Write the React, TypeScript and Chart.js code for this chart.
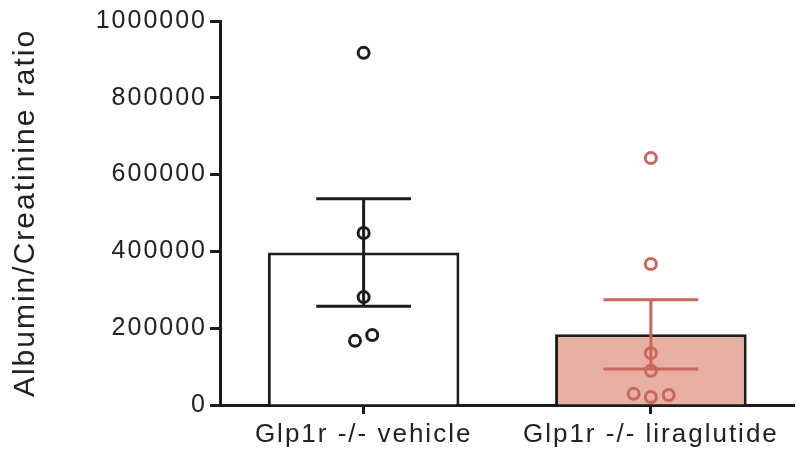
import React, { useEffect, useRef } from "react";
import { Chart, registerables } from "chart.js";

Chart.register(...registerables);

const categories = ["Glp1r -/- vehicle", "Glp1r -/- liraglutide"];
const means = [397000, 184000];
const sems = [140000, 90000];
const vehicleValues = [917000, 448000, 281000, 182000, 167000];
const vehicleJitter = [0, 0, 0, 0.03, -0.03];
const liraValues = [643000, 367000, 135000, 89000, 29000, 21000, 26000];
const liraJitter = [0, 0, 0, 0, -0.06, 0, 0.062];
const yTicks = [0, 200000, 400000, 600000, 800000, 1000000];

const BLACK = "#1c1c1c";
const RED = "#c8665c";
const PINK = "#e8b0a3";
const FONT = "'Liberation Sans', Arial, sans-serif";

const letterSpacingPlugin = {
  id: "letterSpacing",
  beforeUpdate(chart: any) {
    chart.ctx.letterSpacing = "2px";
  },
  beforeDraw(chart: any) {
    chart.ctx.letterSpacing = "2px";
  },
};

const errorBarPlugin = {
  id: "errorBars",
  afterDatasetsDraw(chart: any) {
    const { ctx, scales } = chart;
    const y = scales.y;
    const x2 = scales.x2;
    const colors = [BLACK, RED];
    const capHalf = 0.165;
    ctx.save();
    ctx.lineWidth = 3;
    means.forEach((m, i) => {
      const cx = x2.getPixelForValue(i);
      const left = x2.getPixelForValue(i - capHalf);
      const right = x2.getPixelForValue(i + capHalf);
      const top = y.getPixelForValue(m + sems[i]);
      const bot = y.getPixelForValue(m - sems[i]);
      ctx.strokeStyle = colors[i];
      ctx.beginPath();
      ctx.moveTo(cx, top);
      ctx.lineTo(cx, bot);
      ctx.moveTo(left, top);
      ctx.lineTo(right, top);
      ctx.moveTo(left, bot);
      ctx.lineTo(right, bot);
      ctx.stroke();
    });
    ctx.restore();
  },
};

export default function App() {
  const ref = useRef<HTMLCanvasElement | null>(null);
  useEffect(() => {
    document.body.style.margin = "0";
    if (!ref.current) return;
    const chart = new Chart(ref.current, {
      type: "bar",
      data: {
        labels: categories,
        datasets: [
          {
            type: "bar",
            data: means,
            backgroundColor: ["#ffffff", PINK],
            borderColor: BLACK,
            borderWidth: 3,
            barPercentage: 0.667,
            categoryPercentage: 1,
            grouped: false,
            order: 3,
            xAxisID: "x",
          } as any,
          {
            type: "scatter",
            data: vehicleValues.map((v, i) => ({ x: vehicleJitter[i], y: v })),
            xAxisID: "x2",
            pointRadius: 5.5,
            pointBorderWidth: 3,
            borderColor: BLACK,
            backgroundColor: "rgba(0,0,0,0)",
            pointBackgroundColor: "rgba(0,0,0,0)",
            order: 1,
          } as any,
          {
            type: "scatter",
            data: liraValues.map((v, i) => ({ x: 1 + liraJitter[i], y: v })),
            xAxisID: "x2",
            pointRadius: 5.5,
            pointBorderWidth: 3,
            borderColor: RED,
            backgroundColor: "rgba(0,0,0,0)",
            pointBackgroundColor: "rgba(0,0,0,0)",
            order: 1,
          } as any,
        ],
      },
      options: {
        animation: false,
        responsive: false,
        events: [],
        layout: { padding: { left: 0, top: 21, right: 6, bottom: 0 } },
        plugins: { legend: { display: false }, tooltip: { enabled: false } },
        scales: {
          x: {
            type: "category",
            offset: true,
            grid: {
              display: true,
              drawOnChartArea: false,
              drawTicks: true,
              offset: false,
              tickLength: 9,
              tickWidth: 3,
              tickColor: BLACK,
            },
            border: { display: true, color: BLACK, width: 3 },
            ticks: {
              color: "#222",
              font: { family: FONT, size: 26 },
              padding: 5,
              maxRotation: 0,
            },
            afterFit(scale: any) {
              scale.height = 51;
            },
          },
          x2: {
            type: "linear",
            display: false,
            offset: false,
            grace: 0,
            min: -0.5,
            max: 1.5,
          },
          y: {
            type: "linear",
            min: 0,
            max: 1000000,
            afterBuildTicks(scale: any) {
              scale.ticks = yTicks.map((v) => ({ value: v }));
            },
            grid: {
              display: true,
              drawOnChartArea: false,
              drawTicks: true,
              tickLength: 10,
              tickWidth: 3,
              tickColor: BLACK,
            },
            border: { display: true, color: BLACK, width: 3 },
            ticks: {
              color: "#222",
              font: { family: FONT, size: 25 },
              padding: 3,
              callback: (v: any) => String(v),
            },
            title: {
              display: true,
              text: "Albumin/Creatinine ratio",
              color: "#222",
              font: { family: FONT, size: 30 },
              padding: { top: 8, bottom: 0 },
            },
            afterFit(scale: any) {
              scale.width = 220;
            },
          },
        },
      } as any,
      plugins: [letterSpacingPlugin, errorBarPlugin],
    });
    return () => chart.destroy();
  }, []);
  return (
    <div style={{ width: 803, height: 456 }}>
      <canvas ref={ref} width={803} height={456} />
    </div>
  );
}
